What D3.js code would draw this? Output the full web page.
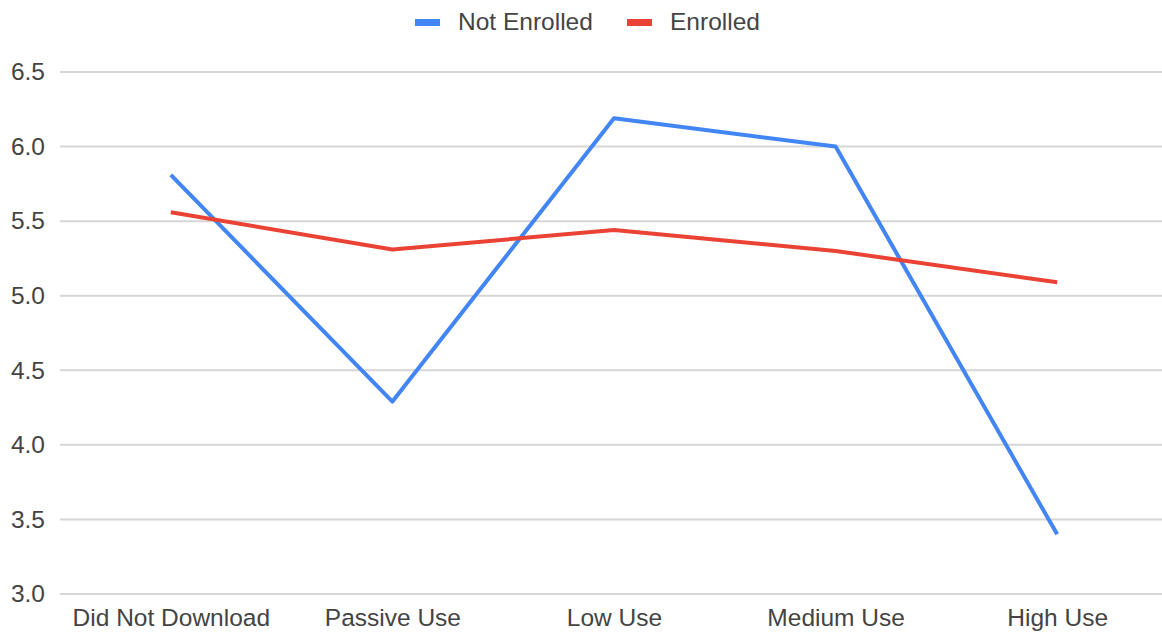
<!DOCTYPE html>
<html>
<head>
<meta charset="utf-8">
<script src="https://cdn.jsdelivr.net/npm/d3@7"></script>
<style>
  html, body { margin: 0; padding: 0; background: #fff; }
  svg { display: block; font-family: "Liberation Sans", Arial, sans-serif; }
</style>
</head>
<body>
<svg id="chart" width="1162" height="632"></svg>
<script>
// Usage groups along the x axis
const categories = ["Did Not Download", "Passive Use", "Low Use", "Medium Use", "High Use"];
// Average score per group
const notEnrolled = [5.81, 4.29, 6.19, 6.00, 3.40];
const enrolled = [5.56, 5.31, 5.44, 5.30, 5.09];
const yTicks = [3.0, 3.5, 4.0, 4.5, 5.0, 5.5, 6.0, 6.5];

const series = [
  { name: "Not Enrolled", values: notEnrolled, color: "#4285f4" },
  { name: "Enrolled", values: enrolled, color: "#ea4335" }
];

const width = 1162, height = 632;
const margin = { top: 72, right: 0, bottom: 38, left: 60 };
const fontSize = 24.5;
const svg = d3.select("#chart");

const x = d3.scalePoint()
  .domain(categories)
  .range([margin.left, margin.left + 221.6 * 5])
  .padding(0.5);

const y = d3.scaleLinear()
  .domain([3.0, 6.5])
  .range([height - margin.bottom, margin.top]);

// Horizontal gridlines
svg.append("g")
  .selectAll("line")
  .data(yTicks)
  .join("line")
  .attr("x1", margin.left)
  .attr("x2", width)
  .attr("y1", d => y(d))
  .attr("y2", d => y(d))
  .attr("stroke", "#d6d6d6")
  .attr("stroke-width", 2);

// Y axis labels
const yAxis = d3.axisLeft(y).tickValues(yTicks).tickFormat(d3.format(".1f")).tickSize(0).tickPadding(15);
const gy = svg.append("g").attr("transform", `translate(${margin.left},0)`).call(yAxis);
gy.select(".domain").remove();
gy.selectAll("text")
  .attr("font-size", fontSize)
  .attr("fill", "#444")
  .attr("font-family", "Liberation Sans, Arial, sans-serif");

// X axis labels
const xAxis = d3.axisBottom(x).tickSize(0).tickPadding(15);
const gx = svg.append("g").attr("transform", `translate(0,${height - margin.bottom})`).call(xAxis);
gx.select(".domain").remove();
gx.selectAll("text")
  .attr("font-size", fontSize)
  .attr("fill", "#444")
  .attr("font-family", "Liberation Sans, Arial, sans-serif");

// Series lines
const line = d3.line()
  .x((d, i) => x(categories[i]))
  .y(d => y(d));

svg.append("g")
  .selectAll("path")
  .data(series)
  .join("path")
  .attr("d", d => line(d.values))
  .attr("fill", "none")
  .attr("stroke", d => d.color)
  .attr("stroke-width", 4)
  .attr("stroke-linejoin", "round");

// Legend
const legendItems = [
  { name: series[0].name, color: series[0].color, x: 415 },
  { name: series[1].name, color: series[1].color, x: 627 }
];
const lg = svg.append("g");
lg.selectAll("rect")
  .data(legendItems)
  .join("rect")
  .attr("x", d => d.x)
  .attr("y", 19)
  .attr("width", 25)
  .attr("height", 7)
  .attr("fill", d => d.color);
lg.selectAll("text")
  .data(legendItems)
  .join("text")
  .attr("x", d => d.x + 43)
  .attr("y", 30)
  .attr("font-size", fontSize)
  .attr("fill", "#444")
  .text(d => d.name);
</script>
</body>
</html>
